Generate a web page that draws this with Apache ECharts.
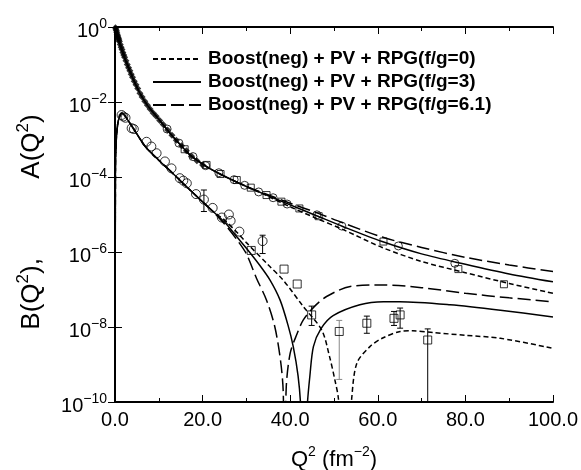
<!DOCTYPE html>
<html>
<head>
<meta charset="utf-8">
<script src="https://cdn.jsdelivr.net/npm/echarts@6/dist/echarts.min.js"></script>
<style>html,body{margin:0;padding:0;background:#fff}#main{width:581px;height:470px}</style>
</head>
<body>
<div id="main"></div>
<script>
// legend names
var nameF0 = 'Boost(neg) + PV + RPG(f/g=0)';
var nameF3 = 'Boost(neg) + PV + RPG(f/g=3)';
var nameF6 = 'Boost(neg) + PV + RPG(f/g=6.1)';

// A(Q^2) theory curves [Q2, A]
var aF3 = [[0,1.0],[0.5,0.63],[1,0.40],[1.5,0.26],[2,0.178],[2.7,0.107],[4,4.5e-2],[5.7,1.7e-2],[7.5,7.9e-3],[9.5,4.1e-3],[11.5,2.1e-3],[13.3,1.17e-3],[15,7.1e-4],[17.1,3.9e-4],[20.9,1.9e-4],[25,1.05e-4],[30,5.6e-5],[34.6,3.3e-5],[40,1.8e-5],[46,9.3e-6],[52,4.8e-6],[61,1.9e-6],[70,8.9e-7],[80,4.7e-7],[90,2.6e-7],[100,1.6e-7]];
var aF6 = [[0,1.0],[0.5,0.63],[1,0.40],[1.5,0.26],[2,0.178],[2.7,0.107],[4,4.5e-2],[5.7,1.7e-2],[7.5,7.9e-3],[9.5,4.1e-3],[11.5,2.1e-3],[13.3,1.17e-3],[15,7.1e-4],[17.1,3.9e-4],[20.9,1.9e-4],[25,1.05e-4],[30,5.6e-5],[34.6,3.5e-5],[40,2.0e-5],[46,1.12e-5],[52,6.0e-6],[61,2.5e-6],[70,1.32e-6],[80,7.2e-7],[90,4.5e-7],[100,3.0e-7]];
var aF0 = [[0,1.0],[0.5,0.63],[1,0.40],[1.5,0.26],[2,0.178],[2.7,0.107],[4,4.5e-2],[5.7,1.7e-2],[7.5,7.9e-3],[9.5,4.1e-3],[11.5,2.1e-3],[13.3,1.17e-3],[15,7.1e-4],[17.1,3.9e-4],[20.9,1.9e-4],[25,1.05e-4],[30,5.6e-5],[34.6,3.2e-5],[40,1.6e-5],[46,7.9e-6],[52,4.0e-6],[61,1.32e-6],[70,5.6e-7],[80,2.8e-7],[90,1.45e-7],[100,7.9e-8]];

// |B(Q^2)| theory curves [Q2, B]  (zeros go below the axis)
var bF6 = [[0,1e-12],[0.1,1.6e-4],[0.3,1e-3],[0.6,2.5e-3],[1,4.0e-3],[1.6,5.0e-3],[3,3.2e-3],[5,1.4e-3],[7,6.3e-4],[10,2.8e-4],[13,1.32e-4],[16,6.0e-5],[19,2.8e-5],[22,1.32e-5],[25,5.6e-6],[28,2.0e-6],[30,8.9e-7],[32.3,2.0e-7],[34.6,5.2e-8],[36.5,1.0e-8],[37.8,1.26e-9],[38.4,2.0e-10],[38.7,1e-12],[39.1,2.5e-10],[40,2.0e-9],[41.5,6.3e-9],[43,1.55e-8],[45.5,3.5e-8],[48.3,6.5e-8],[53.7,1.2e-7],[61.3,1.32e-7],[70,1.12e-7],[80,7.9e-8],[90,6.0e-8],[100,4.7e-8]];
var bF3 = [[0,1e-12],[0.1,1.6e-4],[0.3,1e-3],[0.6,2.5e-3],[1,4.0e-3],[1.6,5.0e-3],[3,3.2e-3],[5,1.4e-3],[7,6.3e-4],[10,2.8e-4],[13,1.32e-4],[16,6.0e-5],[19,2.8e-5],[22,1.32e-5],[25,6.3e-6],[28,2.4e-6],[30,1.26e-6],[33,4.5e-7],[35.4,1.78e-7],[37.7,5.2e-8],[39.5,1.12e-8],[40.7,3.0e-9],[41.8,5.0e-10],[42.4,8e-11],[43.15,1e-12],[43.9,8e-11],[44.5,5.0e-10],[45.3,3.0e-9],[47,8.9e-9],[49.8,2.0e-8],[55.9,3.9e-8],[61.3,4.7e-8],[65,4.7e-8],[76.5,3.9e-8],[88,2.8e-8],[100,1.86e-8]];
var bF0 = [[0,1e-12],[0.1,1.6e-4],[0.3,1e-3],[0.6,2.5e-3],[1,4.0e-3],[1.6,5.0e-3],[3,3.2e-3],[5,1.4e-3],[7,6.3e-4],[10,2.8e-4],[13,1.32e-4],[16,6.0e-5],[19,2.8e-5],[22,1.32e-5],[25,7.1e-6],[28,3.2e-6],[30,1.78e-6],[35,4.5e-7],[38.4,1.78e-7],[43,3.5e-8],[47.2,8.3e-9],[49,1.6e-9],[50.2,3.9e-10],[51,1.26e-10],[52.5,1e-12],[54,1.1e-10],[55.2,1.07e-9],[58.2,3.0e-9],[61,5.0e-9],[65.1,7.6e-9],[68,7.9e-9],[72.7,7.1e-9],[80,6.0e-9],[88,5.0e-9],[100,2.7e-9]];

// A(Q^2) data
var aDia = [[0.1,0.96],[0.2,0.88],[0.3,0.81],[0.4,0.72],[0.5,0.64],[0.6,0.58],[0.7,0.53],[0.8,0.49],[0.9,0.45],[1.0,0.41],[1.2,0.34],[1.4,0.29],[1.6,0.25],[1.8,0.21],[2.0,0.18],[2.2,0.155],[2.5,0.125],[2.8,0.10],[3.1,0.082],[3.4,0.068],[3.7,0.055],[4.0,0.046],[4.4,0.036],[4.8,0.029],[5.2,0.023],[5.7,0.017],[6.2,0.0135],[6.8,0.0105],[7.4,0.0082],[8.0,0.0065],[8.7,0.0051],[9.4,0.0042],[10.2,0.0032],[11.0,0.0025],[12.0,0.0018],[13.0,0.0013],[14.0,9.5e-4],[15.2,6.8e-4],[16.3,5.0e-4],[17.5,3.6e-4],[18.7,2.7e-4],[20.0,2.1e-4]];
var aCirc = [[11.9,1.9e-3],[14.6,8.0e-4],[17.8,3.5e-4],[20.7,2.0e-4],[23.7,1.3e-4],[27.2,8.5e-5],[29.6,6.0e-5],[32.8,4.0e-5],[36.1,2.8e-5],[39.3,1.9e-5],[46.1,9.8e-6],[51.8,4.9e-6],[64.7,1.45e-6],[77.6,5.0e-7]];
var aSq = [[15.9,5.5e-4],[20.9,2.1e-4],[24.1,1.2e-4],[27.8,8.3e-5],[31.0,5.2e-5],[34.6,3.3e-5],[38.0,2.2e-5],[42.1,1.45e-5],[46.5,9.0e-6],[61.3,1.9e-6],[78.4,3.5e-7],[88.8,1.38e-7]];

// B(Q^2) data
var bCirc = [[1.5,4.5e-3],[1.9,4.1e-3],[2.4,3.8e-3],[3.8,2.0e-3],[4.3,1.9e-3],[7.2,8.7e-4],[8.3,6.5e-4],[9.5,4.3e-4],[11.4,2.6e-4],[12.9,1.7e-4],[14.8,9.3e-5],[15.6,8.0e-5],[16.4,6.8e-5],[18.5,3.5e-5],[20.3,2.5e-5],[22.3,1.5e-5],[24.4,8.3e-6],[26,1.0e-5],[26.4,6.8e-6],[28.4,3.5e-6],[33.7,1.95e-6]];
var bSq = [[31.1,1.1e-6],[38.6,3.5e-7],[41.6,1.4e-7],[44.9,2.1e-8],[51.2,7.6e-9],[57.5,1.26e-8],[63.7,1.7e-8],[65.1,2.1e-8],[71.4,4.5e-9]];
// error bars [Q2, low, high]
var bErr = [[20.3,1.2e-5,4.5e-5],[33.7,9.1e-7,2.8e-6],[44.9,1.1e-8,3.6e-8],[57.5,6.8e-9,1.95e-8],[63.7,1.1e-8,2.6e-8],[65.1,9.3e-9,3.2e-8],[71.4,1e-10,8.9e-9]];
var bErrGrey = [[51.2,4e-10,1.5e-8]];

var FONT = 'Liberation Sans, Arial, Helvetica, sans-serif';

function supLabel(v) {
    var e = Math.round(Math.log(v) / Math.LN10);
    return '{b|10}{s|' + (e === 0 ? '0' : '\u2212' + (-e)) + '}';
}

function errBar(color) {
    return function (params, api) {
        var x = api.value(0);
        var lo = api.coord([x, api.value(1)]);
        var hi = api.coord([x, api.value(2)]);
        var w = 3;
        var st = {stroke: color, lineWidth: 1};
        var kids = [
            {type: 'line', shape: {x1: lo[0], y1: lo[1], x2: hi[0], y2: hi[1]}, style: st},
            {type: 'line', shape: {x1: hi[0] - w, y1: hi[1], x2: hi[0] + w, y2: hi[1]}, style: st}
        ];
        if (api.value(1) > 1e-10) {
            kids.push({type: 'line', shape: {x1: lo[0] - w, y1: lo[1], x2: lo[0] + w, y2: lo[1]}, style: st});
        }
        return {type: 'group', children: kids};
    };
}

function curve(name, data, dash) {
    return {
        name: name, type: 'line', data: data, symbol: 'none', smooth: 0.3,
        clip: true, silent: true,
        itemStyle: {color: 'rgba(0,0,0,0)', borderWidth: 0},
        lineStyle: {color: '#000', width: 1.5, type: dash}
    };
}

function points(data, symbol, size, filled) {
    return {
        type: 'scatter', data: data, symbol: symbol, symbolSize: size, silent: true,
        itemStyle: filled ? {color: '#000'} : {color: 'rgba(255,255,255,0)', borderColor: '#000', borderWidth: 1}
    };
}

var chart = echarts.init(document.getElementById('main'));

var axisLine = {lineStyle: {color: '#000', width: 2}};
var tick = {inside: true, length: 7, lineStyle: {color: '#000', width: 1}};
var option = {
    animation: false,
    backgroundColor: '#fff',
    grid: {left: 115, right: 28, top: 27, bottom: 68},
    legend: {
        data: [nameF0, nameF3, nameF6],
        orient: 'vertical', left: 147, top: 43,
        itemWidth: 48, itemHeight: 14, itemGap: 1,
        selectedMode: false,
        itemStyle: {opacity: 0},
        textStyle: {fontFamily: FONT, fontSize: 19, fontWeight: 'bold', color: '#000', lineHeight: 22, padding: [0, 0, 0, 2]}
    },
    xAxis: [{
        type: 'value', min: 0, max: 100, interval: 20,
        axisLine: axisLine, axisTick: tick,
        minorTick: {show: true, splitNumber: 2, length: 4, lineStyle: {color: '#000', width: 1}},
        splitLine: {show: false},
        axisLabel: {fontFamily: FONT, fontSize: 20, color: '#000', margin: 8,
            formatter: function (v) { return v.toFixed(1); }}
    }, {
        type: 'value', min: 0, max: 100, interval: 20, position: 'top',
        axisLine: axisLine, axisTick: tick,
        minorTick: {show: true, splitNumber: 2, length: 4, lineStyle: {color: '#000', width: 1}},
        splitLine: {show: false}, axisLabel: {show: false}
    }],
    yAxis: [{
        type: 'log', logBase: 10, min: 1e-10, max: 1, interval: 2,
        axisLine: axisLine, axisTick: tick,
        splitLine: {show: false},
        axisLabel: {
            margin: 8, formatter: supLabel,
            rich: {
                b: {fontFamily: FONT, fontSize: 20, color: '#000', lineHeight: 20, padding: [8, 0, 0, 0]},
                s: {fontFamily: FONT, fontSize: 14, color: '#000', lineHeight: 14, verticalAlign: 'top'}
            }
        }
    }, {
        type: 'log', logBase: 10, min: 1e-10, max: 1, interval: 2, position: 'right',
        axisLine: axisLine, axisTick: tick,
        splitLine: {show: false}, axisLabel: {show: false}
    }],
    graphic: [{
        type: 'text', x: 28, y: 222, rotation: Math.PI / 2,
        style: {
            text: '{t|B(Q}{s|2}{t|),           A(Q}{s|2}{t|)}',
            align: 'center', verticalAlign: 'middle',
            rich: {
                t: {fontFamily: FONT, fontSize: 26, fill: '#000', lineHeight: 26, padding: [8, 0, 0, 0]},
                s: {fontFamily: FONT, fontSize: 17, fill: '#000', lineHeight: 17, verticalAlign: 'top'}
            }
        }
    }, {
        type: 'text', x: 334, y: 456,
        style: {
            text: '{t|Q}{s|2}{t| (fm}{s|\u22122}{t|)}',
            align: 'center', verticalAlign: 'middle',
            rich: {
                t: {fontFamily: FONT, fontSize: 22, fill: '#000', lineHeight: 22, padding: [7, 0, 0, 0]},
                s: {fontFamily: FONT, fontSize: 14, fill: '#000', lineHeight: 14, verticalAlign: 'top'}
            }
        }
    }],
    series: [
        curve(nameF0, aF0, [5, 3]),
        curve(nameF3, aF3, 'solid'),
        curve(nameF6, aF6, [13, 5]),
        curve(nameF0, bF0, [5, 3]),
        curve(nameF3, bF3, 'solid'),
        curve(nameF6, bF6, [13, 5]),
        {type: 'custom', renderItem: errBar('#000'), data: bErr, encode: {x: 0, y: [1, 2]}, silent: true, clip: true},
        {type: 'custom', renderItem: errBar('#888'), data: bErrGrey, encode: {x: 0, y: [1, 2]}, silent: true, clip: true},
        points(aDia, 'diamond', 7, true),
        points(aCirc, 'circle', 8, false),
        points(aSq, 'rect', 7, false),
        points(bCirc, 'circle', 9, false),
        points(bSq, 'rect', 8, false)
    ]
};
chart.setOption(option);
</script>
</body>
</html>
